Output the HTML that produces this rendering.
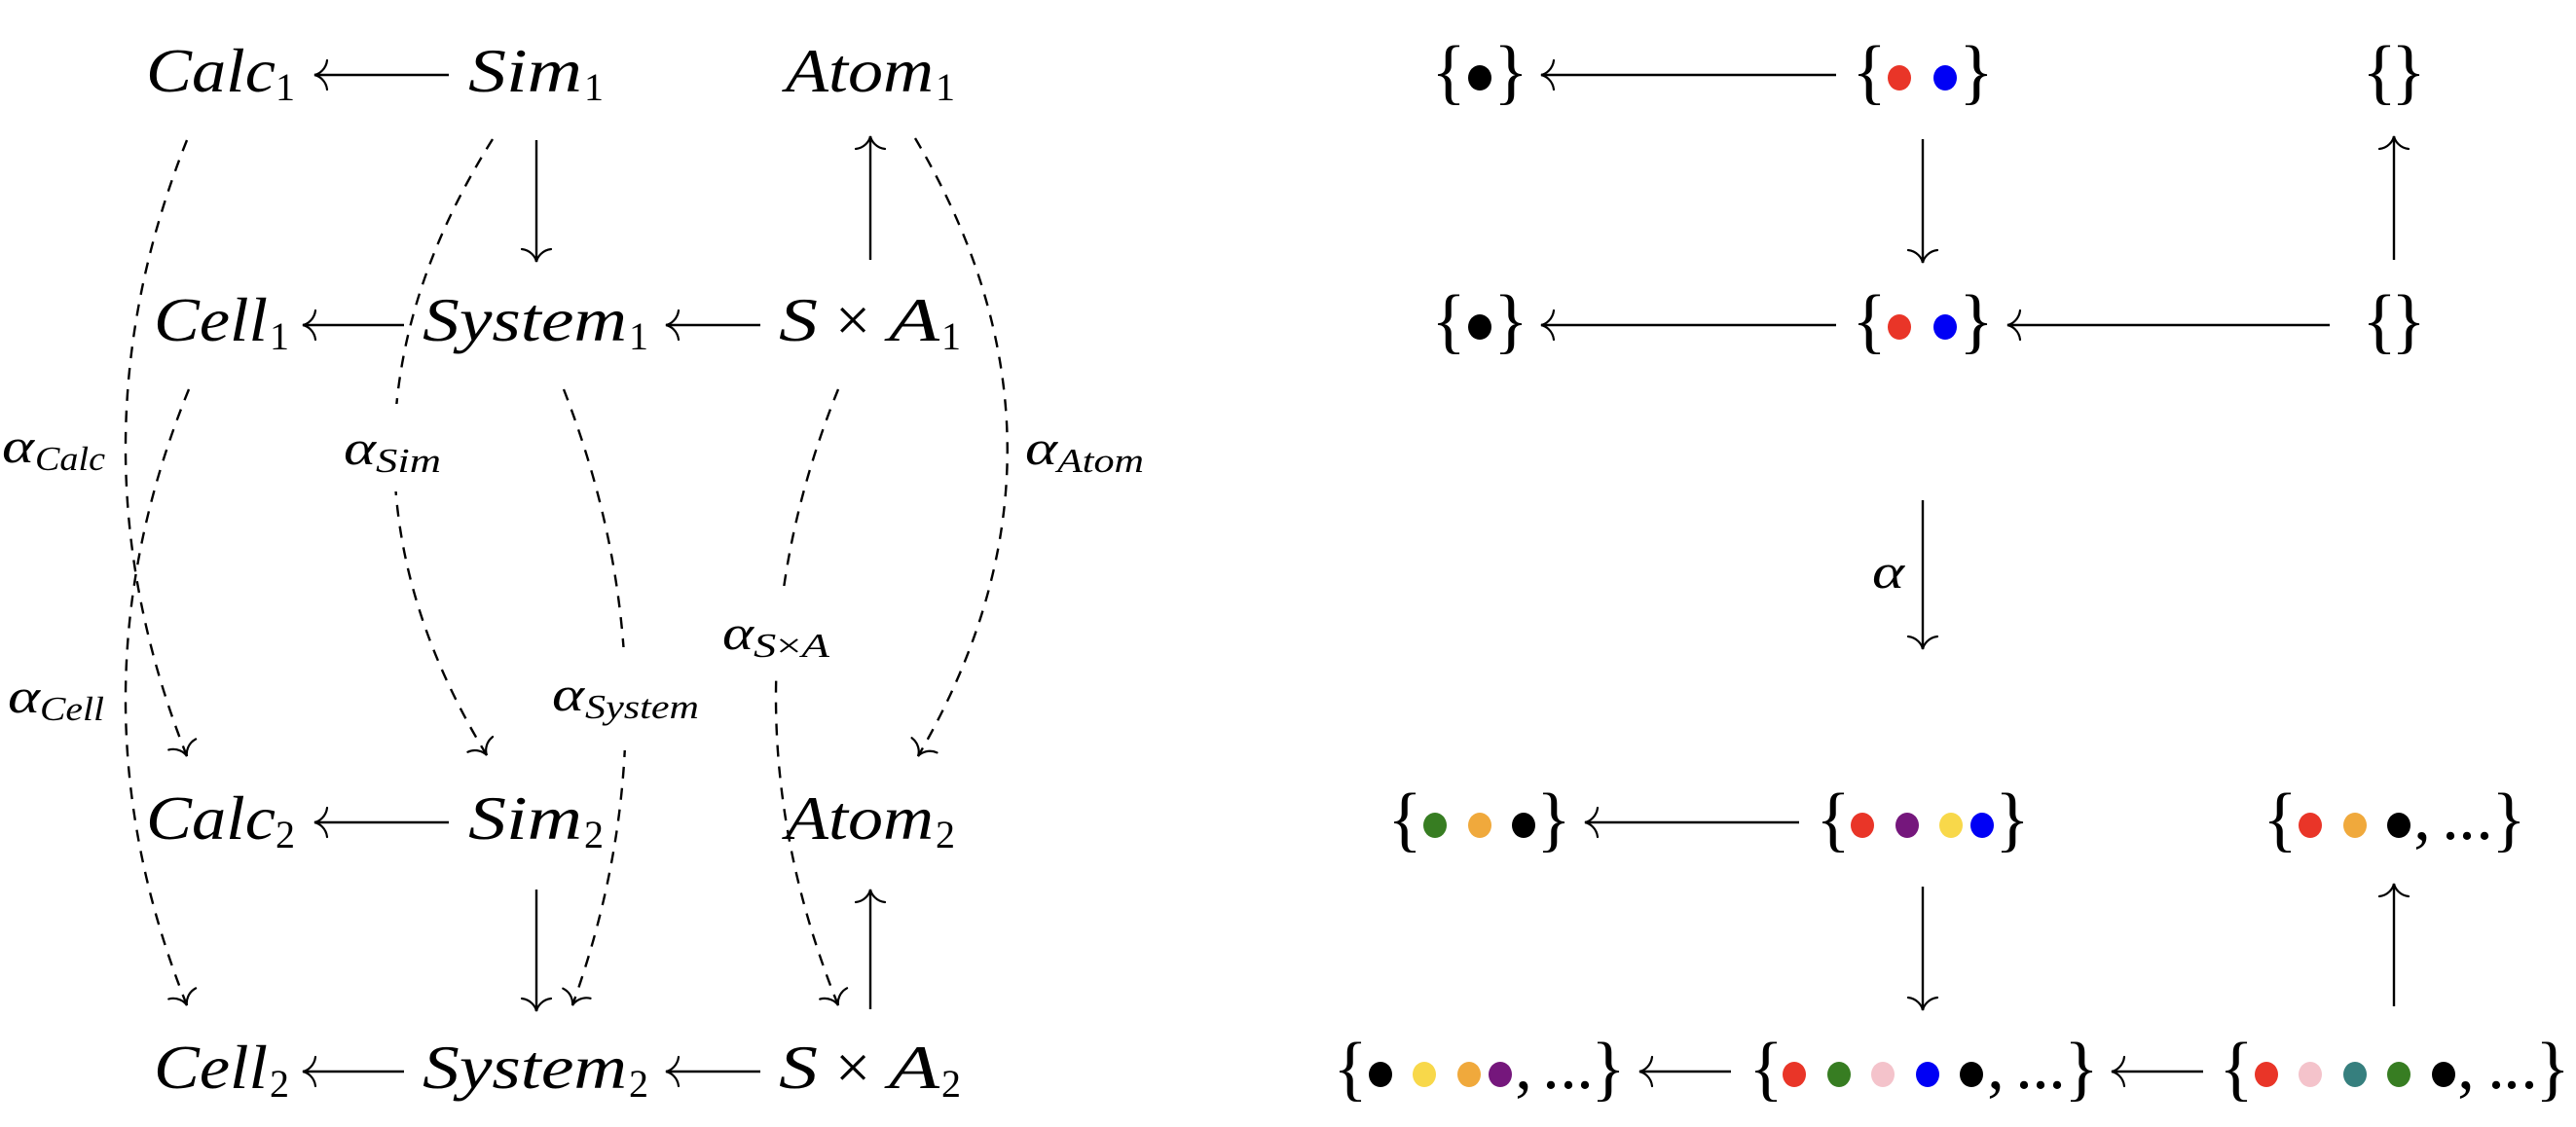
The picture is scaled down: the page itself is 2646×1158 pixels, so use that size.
<!DOCTYPE html>
<html><head><meta charset="utf-8">
<style>
html,body{margin:0;padding:0;background:#fff;}
svg{display:block;}
.m{font-family:"Liberation Serif",serif;font-style:italic;font-size:64px;fill:#000;}
.u{font-family:"Liberation Serif",serif;font-size:64px;fill:#000;}
.d{font-family:"Liberation Serif",serif;font-size:40px;fill:#000;}
.a{font-family:"Liberation Serif",serif;font-style:italic;font-size:50px;fill:#000;}
.s{font-family:"Liberation Serif",serif;font-style:italic;font-size:35px;fill:#000;}
.b{font-family:"Liberation Serif",serif;font-size:74px;fill:#000;}
.p{font-family:"Liberation Serif",serif;font-size:70px;fill:#000;}
.ln{stroke:#000;stroke-width:2.4;fill:none;}
.ds{stroke:#000;stroke-width:2.4;fill:none;stroke-dasharray:12 10;}
.hd{stroke:#000;stroke-width:2.2;fill:none;stroke-linecap:round;}
</style></head><body>
<svg width="2646" height="1158" viewBox="0 0 2646 1158" xmlns="http://www.w3.org/2000/svg">
<defs><path id="h" d="M-13,-15 C-12,-6 -5,-1 0,0 C-5,1 -12,6 -13,15"/></defs>
<rect x="0" y="0" width="2646" height="1158" fill="#fff"/>

<!-- ============ LEFT DIAGRAM ============ -->
<!-- dashed curves -->
<path class="ds" d="M192,144 Q66,460 192,777"/>
<path class="ds" d="M194,400 Q65,716 192,1033"/>
<path class="ds" d="M506,143 Q307,460 500,776"/>
<path class="ds" d="M579,400 Q702,716 588,1033"/>
<path class="ds" d="M861,400 Q733,716 861,1033"/>
<path class="ds" d="M940,142 Q1128,460 943,777"/>
<use href="#h" class="hd" transform="translate(192,777) rotate(68.3)"/>
<use href="#h" class="hd" transform="translate(192,1033) rotate(68.2)"/>
<use href="#h" class="hd" transform="translate(500,776) rotate(58.6)"/>
<use href="#h" class="hd" transform="translate(588,1033) rotate(109.8)"/>
<use href="#h" class="hd" transform="translate(861,1033) rotate(68)"/>
<use href="#h" class="hd" transform="translate(943,777) rotate(120.3)"/>

<!-- label gaps -->
<rect x="350" y="415" width="108" height="90" fill="#fff"/>
<rect x="563" y="665" width="158" height="106" fill="#fff"/>
<rect x="738" y="608" width="118" height="90" fill="#fff"/>

<!-- alpha labels -->
<text class="a" x="2" y="475" textLength="33" lengthAdjust="spacingAndGlyphs">α</text>
<text class="s" x="36" y="483" textLength="72" lengthAdjust="spacingAndGlyphs">Calc</text>
<text class="a" x="8" y="732" textLength="33" lengthAdjust="spacingAndGlyphs">α</text>
<text class="s" x="41" y="740" textLength="66" lengthAdjust="spacingAndGlyphs">Cell</text>
<text class="a" x="353" y="477" textLength="33" lengthAdjust="spacingAndGlyphs">α</text>
<text class="s" x="386" y="485" textLength="67" lengthAdjust="spacingAndGlyphs">Sim</text>
<text class="a" x="567" y="730" textLength="33" lengthAdjust="spacingAndGlyphs">α</text>
<text class="s" x="601" y="738" textLength="117" lengthAdjust="spacingAndGlyphs">System</text>
<text class="a" x="742" y="667" textLength="32" lengthAdjust="spacingAndGlyphs">α</text>
<text class="s" x="774" y="675" textLength="78" lengthAdjust="spacingAndGlyphs"><tspan>S</tspan><tspan font-style="normal">×</tspan><tspan>A</tspan></text>
<text class="a" x="1053" y="477" textLength="33" lengthAdjust="spacingAndGlyphs">α</text>
<text class="s" x="1086" y="485" textLength="89" lengthAdjust="spacingAndGlyphs">Atom</text>

<!-- solid arrows left -->
<line class="ln" x1="323" y1="77" x2="461" y2="77"/><use href="#h" class="hd" transform="translate(323,77) rotate(180)"/>
<line class="ln" x1="311" y1="334" x2="415" y2="334"/><use href="#h" class="hd" transform="translate(311,334) rotate(180)"/>
<line class="ln" x1="684" y1="334" x2="781" y2="334"/><use href="#h" class="hd" transform="translate(684,334) rotate(180)"/>
<line class="ln" x1="323" y1="845" x2="461" y2="845"/><use href="#h" class="hd" transform="translate(323,845) rotate(180)"/>
<line class="ln" x1="311" y1="1101" x2="415" y2="1101"/><use href="#h" class="hd" transform="translate(311,1101) rotate(180)"/>
<line class="ln" x1="684" y1="1101" x2="781" y2="1101"/><use href="#h" class="hd" transform="translate(684,1101) rotate(180)"/>
<line class="ln" x1="551" y1="144" x2="551" y2="269"/><use href="#h" class="hd" transform="translate(551,269) rotate(90)"/>
<line class="ln" x1="551" y1="914" x2="551" y2="1039"/><use href="#h" class="hd" transform="translate(551,1039) rotate(90)"/>
<line class="ln" x1="894" y1="267" x2="894" y2="140"/><use href="#h" class="hd" transform="translate(894,140) rotate(-90)"/>
<line class="ln" x1="894" y1="1037" x2="894" y2="914"/><use href="#h" class="hd" transform="translate(894,914) rotate(-90)"/>

<!-- nodes row 1 -->
<text class="m" x="150" y="94" textLength="133" lengthAdjust="spacingAndGlyphs">Calc</text><text class="d" x="283" y="103">1</text>
<text class="m" x="481" y="94" textLength="117" lengthAdjust="spacingAndGlyphs">Sim</text><text class="d" x="600" y="103">1</text>
<text class="m" x="807" y="94" textLength="152" lengthAdjust="spacingAndGlyphs">Atom</text><text class="d" x="961" y="103">1</text>
<!-- row 2 -->
<text class="m" x="158" y="350" textLength="117" lengthAdjust="spacingAndGlyphs">Cell</text><text class="d" x="277" y="359">1</text>
<text class="m" x="434" y="350" textLength="210" lengthAdjust="spacingAndGlyphs">System</text><text class="d" x="646" y="359">1</text>
<text class="m" x="800" y="350" textLength="40" lengthAdjust="spacingAndGlyphs">S</text><text class="u" x="858" y="350">×</text><text class="m" x="913" y="350" textLength="52" lengthAdjust="spacingAndGlyphs">A</text><text class="d" x="967" y="359">1</text>
<!-- row 3 -->
<text class="m" x="150" y="862" textLength="133" lengthAdjust="spacingAndGlyphs">Calc</text><text class="d" x="283" y="871">2</text>
<text class="m" x="481" y="862" textLength="117" lengthAdjust="spacingAndGlyphs">Sim</text><text class="d" x="600" y="871">2</text>
<text class="m" x="807" y="862" textLength="152" lengthAdjust="spacingAndGlyphs">Atom</text><text class="d" x="961" y="871">2</text>
<!-- row 4 -->
<text class="m" x="158" y="1118" textLength="117" lengthAdjust="spacingAndGlyphs">Cell</text><text class="d" x="277" y="1127">2</text>
<text class="m" x="434" y="1118" textLength="210" lengthAdjust="spacingAndGlyphs">System</text><text class="d" x="646" y="1127">2</text>
<text class="m" x="800" y="1118" textLength="40" lengthAdjust="spacingAndGlyphs">S</text><text class="u" x="858" y="1118">×</text><text class="m" x="913" y="1118" textLength="52" lengthAdjust="spacingAndGlyphs">A</text><text class="d" x="967" y="1127">2</text>

<!-- ============ RIGHT DIAGRAM ============ -->
<!-- arrows -->
<line class="ln" x1="1583" y1="77" x2="1886" y2="77"/><use href="#h" class="hd" transform="translate(1583,77) rotate(180)"/>
<line class="ln" x1="1583" y1="334" x2="1886" y2="334"/><use href="#h" class="hd" transform="translate(1583,334) rotate(180)"/>
<line class="ln" x1="2062" y1="334" x2="2393" y2="334"/><use href="#h" class="hd" transform="translate(2062,334) rotate(180)"/>
<line class="ln" x1="1628" y1="845" x2="1848" y2="845"/><use href="#h" class="hd" transform="translate(1628,845) rotate(180)"/>
<line class="ln" x1="1684" y1="1101" x2="1778" y2="1101"/><use href="#h" class="hd" transform="translate(1684,1101) rotate(180)"/>
<line class="ln" x1="2169" y1="1101" x2="2263" y2="1101"/><use href="#h" class="hd" transform="translate(2169,1101) rotate(180)"/>
<line class="ln" x1="1975" y1="143" x2="1975" y2="270"/><use href="#h" class="hd" transform="translate(1975,270) rotate(90)"/>
<line class="ln" x1="1975" y1="514" x2="1975" y2="667"/><use href="#h" class="hd" transform="translate(1975,667) rotate(90)"/>
<line class="ln" x1="1975" y1="911" x2="1975" y2="1038"/><use href="#h" class="hd" transform="translate(1975,1038) rotate(90)"/>
<line class="ln" x1="2459" y1="267" x2="2459" y2="140"/><use href="#h" class="hd" transform="translate(2459,140) rotate(-90)"/>
<line class="ln" x1="2459" y1="1034" x2="2459" y2="908"/><use href="#h" class="hd" transform="translate(2459,908) rotate(-90)"/>
<text class="a" x="1923" y="604" textLength="33" lengthAdjust="spacingAndGlyphs" font-size="52">α</text>

<!-- braces -->
<g class="b" text-anchor="middle">
<text x="1488" y="98">{</text><text x="1552" y="98">}</text>
<text x="1920" y="98">{</text><text x="2030" y="98">}</text>
<text x="2444" y="98">{</text><text x="2474" y="98">}</text>
<text x="1488" y="354">{</text><text x="1552" y="354">}</text>
<text x="1920" y="354">{</text><text x="2030" y="354">}</text>
<text x="2444" y="354">{</text><text x="2474" y="354">}</text>
<text x="1443" y="866">{</text><text x="1596" y="866">}</text>
<text x="1883" y="866">{</text><text x="2067" y="866">}</text>
<text x="2342" y="866">{</text><text x="2577" y="866">}</text>
<text x="1387" y="1122">{</text><text x="1652" y="1122">}</text>
<text x="1814" y="1122">{</text><text x="2138" y="1122">}</text>
<text x="2297" y="1122">{</text><text x="2622" y="1122">}</text>
</g>

<!-- commas and ellipses -->
<g class="p" text-anchor="middle">
<text x="2488" y="862">,</text><text x="2517" y="862">.</text><text x="2534" y="862">.</text><text x="2552" y="862">.</text>
<text x="1565" y="1118">,</text><text x="1593" y="1118">.</text><text x="1611" y="1118">.</text><text x="1628" y="1118">.</text>
<text x="2050" y="1118">,</text><text x="2079" y="1118">.</text><text x="2096" y="1118">.</text><text x="2113" y="1118">.</text>
<text x="2533" y="1118">,</text><text x="2564" y="1118">.</text><text x="2580" y="1118">.</text><text x="2598" y="1118">.</text>
</g>

<!-- dots -->
<g>
<!-- row 1 -->
<ellipse cx="1520" cy="80" rx="12" ry="13" fill="#000"/>
<ellipse cx="1951" cy="80" rx="12" ry="13" fill="#e93528"/>
<ellipse cx="1998" cy="80" rx="12" ry="13" fill="#0000f5"/>
<!-- row 2 -->
<ellipse cx="1520" cy="336" rx="12" ry="13" fill="#000"/>
<ellipse cx="1951" cy="336" rx="12" ry="13" fill="#e93528"/>
<ellipse cx="1998" cy="336" rx="12" ry="13" fill="#0000f5"/>
<!-- row 3 -->
<ellipse cx="1474" cy="848" rx="12" ry="13" fill="#377d22"/>
<ellipse cx="1520" cy="848" rx="12" ry="13" fill="#f0a93c"/>
<ellipse cx="1565" cy="848" rx="12" ry="13" fill="#000"/>
<ellipse cx="1913" cy="848" rx="12" ry="13" fill="#e93528"/>
<ellipse cx="1959" cy="848" rx="12" ry="13" fill="#75177c"/>
<ellipse cx="2004" cy="848" rx="12" ry="13" fill="#f8d84a"/>
<ellipse cx="2036" cy="848" rx="12" ry="13" fill="#0000f5"/>
<ellipse cx="2373" cy="848" rx="12" ry="13" fill="#e93528"/>
<ellipse cx="2419" cy="848" rx="12" ry="13" fill="#f0a93c"/>
<ellipse cx="2464" cy="848" rx="12" ry="13" fill="#000"/>
<!-- row 4 -->
<ellipse cx="1418" cy="1104" rx="12" ry="13" fill="#000"/>
<ellipse cx="1463" cy="1104" rx="12" ry="13" fill="#f8d84a"/>
<ellipse cx="1509" cy="1104" rx="12" ry="13" fill="#f0a93c"/>
<ellipse cx="1541" cy="1104" rx="12" ry="13" fill="#75177c"/>
<ellipse cx="1843" cy="1104" rx="12" ry="13" fill="#e93528"/>
<ellipse cx="1889" cy="1104" rx="12" ry="13" fill="#377d22"/>
<ellipse cx="1934" cy="1104" rx="12" ry="13" fill="#f4c3cb"/>
<ellipse cx="1980" cy="1104" rx="12" ry="13" fill="#0000f5"/>
<ellipse cx="2025" cy="1104" rx="12" ry="13" fill="#000"/>
<ellipse cx="2328" cy="1104" rx="12" ry="13" fill="#e93528"/>
<ellipse cx="2373" cy="1104" rx="12" ry="13" fill="#f4c3cb"/>
<ellipse cx="2419" cy="1104" rx="12" ry="13" fill="#367f7e"/>
<ellipse cx="2464" cy="1104" rx="12" ry="13" fill="#377d22"/>
<ellipse cx="2510" cy="1104" rx="12" ry="13" fill="#000"/>
</g>
</svg>
</body></html>
